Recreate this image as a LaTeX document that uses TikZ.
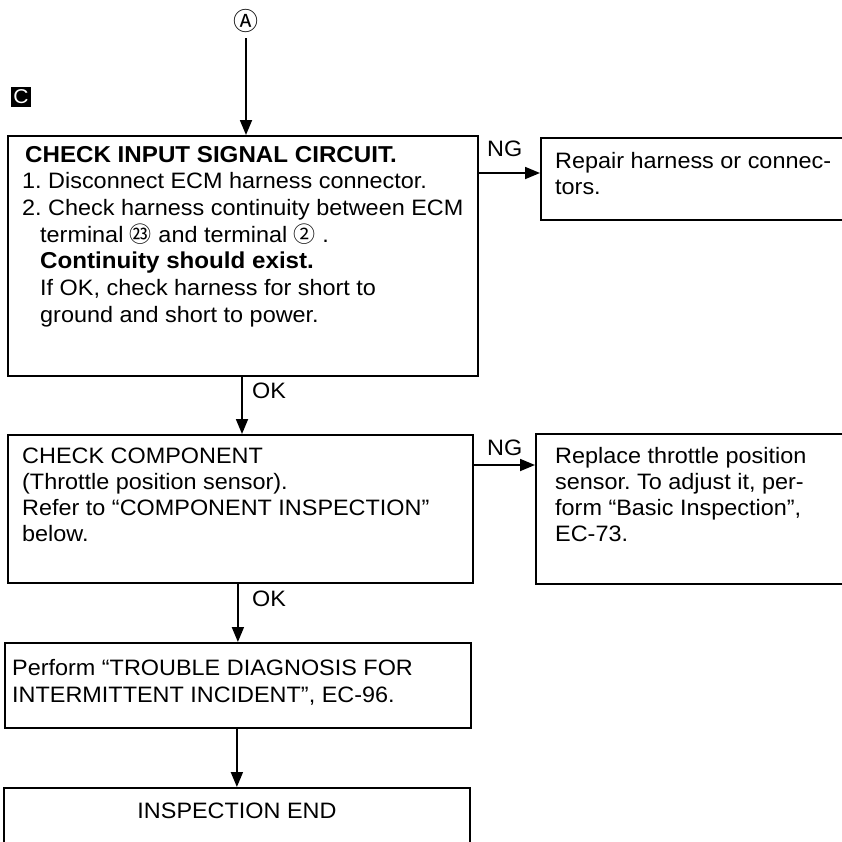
\documentclass[tikz,border=0pt]{standalone}
\usepackage{fontspec}
\setmainfont{Liberation Sans}[FakeStretch=1.05]
\newfontfamily\cjkcirc{Noto Sans CJK JP}
\usetikzlibrary{arrows.meta}
\begin{document}
\begin{tikzpicture}[x=1pt,y=-1pt,
  box/.style={draw, line width=1.8pt, rectangle, inner sep=0pt, anchor=north west},
  txt/.style={anchor=base west, inner sep=0pt, font=\fontsize{22.3}{26}\selectfont\frenchspacing},
  btxt/.style={txt, font=\fontsize{23}{26}\selectfont\bfseries\frenchspacing},
  arr/.style={line width=1.8pt, -{Triangle[length=15pt,width=12pt]}}]
\useasboundingbox (0,0) rectangle (842,841);
\clip (0,0) rectangle (842,841);

% entry marker
\node[inner sep=0pt, font=\fontsize{25}{25}\selectfont\cjkcirc] (A) at (246,21) {Ⓐ};
\coordinate (Aend) at (246,38);

% section marker C
\node[fill=black, text=white, minimum size=20pt, inner sep=0pt,
      font=\fontsize{20}{20}\selectfont] (C) at (21,97) {C};

% boxes
\node[box, minimum width=470pt, minimum height=240pt] (b1) at (7,135) {};
\node[box, minimum width=360pt, minimum height=82pt] (rep) at (540,137) {};
\node[box, minimum width=465pt, minimum height=148pt] (b2) at (7,434) {};
\node[box, minimum width=365pt, minimum height=150pt] (rpl) at (535,433) {};
\node[box, minimum width=466pt, minimum height=85pt] (b3) at (4,642) {};
\node[box, minimum width=466pt, minimum height=100pt] (b4) at (3,787) {};

% box 1 text
\node[btxt] (t11) at (25,162) {CHECK INPUT SIGNAL CIRCUIT.};
\node[txt] (t12) at (22,188) {1. Disconnect ECM harness connector.};
\node[txt] (t13) at (22,215) {2. Check harness continuity between ECM};
\node[txt] (t14) at (40,242) {terminal {\fontsize{22}{22}\selectfont\cjkcirc ㉓} and terminal {\fontsize{22}{22}\selectfont\cjkcirc ②} .};
\node[btxt] (t15) at (40,268) {Continuity should exist.};
\node[txt] (t16) at (40,295) {If OK, check harness for short to};
\node[txt] (t17) at (40,322) {ground and short to power.};

% repair box text
\node[txt] (r1) at (555,168) {Repair harness or connec-};
\node[txt] (r2) at (555,194) {tors.};

% box 2 text
\node[txt] (t21) at (22,463) {CHECK COMPONENT};
\node[txt] (t22) at (22,489) {(Throttle position sensor).};
\node[txt] (t23) at (22,515) {Refer to “COMPONENT INSPECTION”};
\node[txt] (t24) at (22,541) {below.};

% replace box text
\node[txt] (p1) at (555,463) {Replace throttle position};
\node[txt] (p2) at (555,489) {sensor. To adjust it, per-};
\node[txt] (p3) at (555,515) {form “Basic Inspection”,};
\node[txt] (p4) at (555,541) {EC-73.};

% box 3 text
\node[txt] (t31) at (12,675) {Perform “TROUBLE DIAGNOSIS FOR};
\node[txt] (t32) at (12,702) {INTERMITTENT INCIDENT”, EC-96.};

% box 4 text
\node[txt, anchor=base] (t41) at (237,818) {INSPECTION END};

% labels
\node[txt] (ng1) at (487,156) {NG};
\node[txt] (ng2) at (487,455) {NG};
\node[txt] (ok1) at (252,398) {OK};
\node[txt] (ok2) at (252,606) {OK};

% connectors
\draw[arr] (Aend) -- (Aend |- b1.north);
\draw[arr] ([yshift=-38pt]b1.north east) coordinate (n1) -- (n1 -| rep.west);
\draw[arr] (242,0 |- b1.south) coordinate (o1) -- (o1 |- b2.north);
\draw[arr] ([yshift=-31pt]b2.north east) coordinate (n2) -- (n2 -| rpl.west);
\draw[arr] (b3.north |- b2.south) -- (b3.north);
\draw[arr] (b4.north |- b3.south) -- (b4.north);
\end{tikzpicture}
\end{document}
